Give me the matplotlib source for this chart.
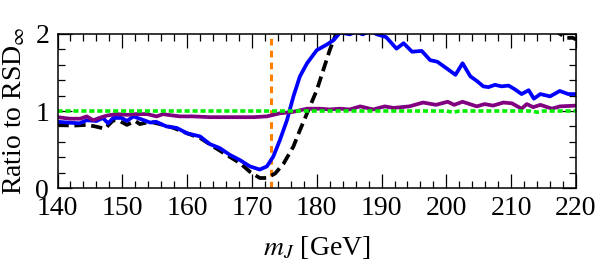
import numpy as np
import matplotlib
matplotlib.use("Agg")
import matplotlib.pyplot as plt
from matplotlib.ticker import MultipleLocator

plt.rcParams["font.family"] = "Liberation Serif"
plt.rcParams["mathtext.fontset"] = "stix"

# blue curve
blue_x = [140, 141.5, 143.4, 144.5, 146, 147, 147.8, 148.6, 149.9, 150.7, 151.7, 153, 154.3,
          155.2, 156.8, 158.4, 160, 162, 163.5, 165, 166.6, 168.2, 169.7, 171.2, 172.3, 173.3,
          174.3, 175.4, 176.4, 177.4, 178.5, 180, 181.5, 182.6, 183.6, 185.1, 186, 187.1, 188.2,
          189.3, 190.7, 192.3, 193.4, 194.7, 196.2, 197.5, 198.6, 200.1, 201.4, 202.5, 203.7,
          204.7, 205.7, 206.5, 207.5, 208.5, 209.6, 210.6, 211.6, 212.7, 213.5, 214.5, 216,
          217.5, 218.8, 220]
blue_y = [0.86, 0.85, 0.84, 0.88, 0.87, 0.91, 0.84, 0.91, 0.91, 0.87, 0.93, 0.89, 0.85,
          0.86, 0.80, 0.78, 0.71, 0.67, 0.57, 0.52, 0.43, 0.36, 0.28, 0.24, 0.28, 0.41,
          0.62, 0.88, 1.19, 1.45, 1.62, 1.79, 1.86, 1.92, 2.02, 1.995, 2.03, 1.995, 2.04,
          1.995, 1.96, 1.81, 1.88, 1.77, 1.78, 1.66, 1.64, 1.55, 1.47, 1.62, 1.45,
          1.39, 1.32, 1.31, 1.34, 1.32, 1.33, 1.28, 1.22, 1.27, 1.16, 1.22, 1.19,
          1.26, 1.22, 1.22]

# black dashed curve
black_x = [140, 142.4, 144.5, 145.8, 147.3, 148.6, 149.6, 150.7, 152, 152.7, 154.3, 155.8,
           157.9, 160, 162, 164, 166.1, 168.2, 169.7, 171.2, 172.3, 173.6, 174.9, 176.4,
           177.4, 178.5, 180, 181, 182, 183, 184, 186, 190, 195, 200, 205, 210, 215, 217,
           218.5, 219.5, 220]
black_y = [0.82, 0.81, 0.82, 0.80, 0.77, 0.88, 0.87, 0.82, 0.87, 0.83, 0.86, 0.83,
           0.78, 0.71, 0.65, 0.54, 0.43, 0.32, 0.21, 0.13, 0.13, 0.19, 0.32, 0.54,
           0.75, 0.97, 1.27, 1.53, 1.79, 2.01, 2.2, 2.4, 2.6, 2.6, 2.5, 2.35, 2.2, 2.08, 2.03,
           1.95, 1.95, 1.93]

# purple curve
purple_x = [140, 141.9, 143.5, 144.5, 145.5, 146.8, 147.6, 149.1, 150.7, 152.2, 153.8, 155.3,
            156.3, 157, 158.9, 160.9, 163.5, 167.1, 170.2, 172.3, 174.3, 176.4, 178.5, 180.5,
            182, 183.6, 185.1, 186.7, 188.7, 190.5, 191.8, 194.3, 196.4, 198.4, 200.2, 201.2,
            202.5, 204.7, 205.9, 207.2, 208.8, 210.1, 211.6, 212.4, 213.4, 214.5, 216.3,
            217.5, 220]
purple_y = [0.92, 0.90, 0.90, 0.93, 0.88, 0.92, 0.94, 0.96, 0.95, 0.96, 0.96, 0.93,
            0.96, 0.95, 0.93, 0.93, 0.92, 0.92, 0.92, 0.93, 0.97, 0.99, 1.03, 1.03,
            1.02, 1.03, 1.02, 1.06, 1.02, 1.06, 1.04, 1.06, 1.11, 1.08, 1.12, 1.08,
            1.12, 1.06, 1.09, 1.07, 1.11, 1.10, 1.03, 1.09, 1.05, 1.08, 1.03,
            1.06, 1.07]

# green dotted reference
green_x = [140, 150, 160, 170, 180, 190, 200, 201, 202, 213, 214, 215, 220]
green_y = [1.0, 1.0, 1.0, 1.0, 1.0, 1.0, 1.0, 0.985, 1.0, 1.0, 0.985, 1.0, 1.0]

top_mass = 173

fig = plt.figure(figsize=(5.98, 2.66), dpi=100)
ax = fig.add_axes([0.0962, 0.2932, 0.867, 0.579])

ax.axvline(top_mass, color="#ff8000", lw=2.2, linestyle=(0, (2.2, 1.7)))
ax.plot(black_x, black_y, color="black", lw=2.7, linestyle=(0, (3, 1.5)))
ax.plot(blue_x, blue_y, color="#0000ff", lw=2.7)
ax.plot(purple_x, purple_y, color="#800080", lw=2.7)
ax.plot(green_x, green_y, color="#00ee00", lw=2.6, linestyle=(0, (1.4, 0.8)))

ax.set_xlim(140, 220)
ax.set_ylim(0, 2)
ax.xaxis.set_major_locator(MultipleLocator(10))
ax.xaxis.set_minor_locator(MultipleLocator(2))
ax.yaxis.set_major_locator(MultipleLocator(1))
ax.yaxis.set_minor_locator(MultipleLocator(0.2))
ax.tick_params(which="both", direction="in", top=True, right=True, labelsize=20, width=0.9)
ax.tick_params(which="major", length=10, pad=6)
ax.tick_params(which="minor", length=5)
for s in ax.spines.values():
    s.set_linewidth(1.1)

ax.set_xlabel("$m_J$ [GeV]", fontsize=20, labelpad=9)
ax.set_ylabel("Ratio to RSD$_\\infty$", fontsize=20, labelpad=6)

fig.savefig("out.png", dpi=100)
